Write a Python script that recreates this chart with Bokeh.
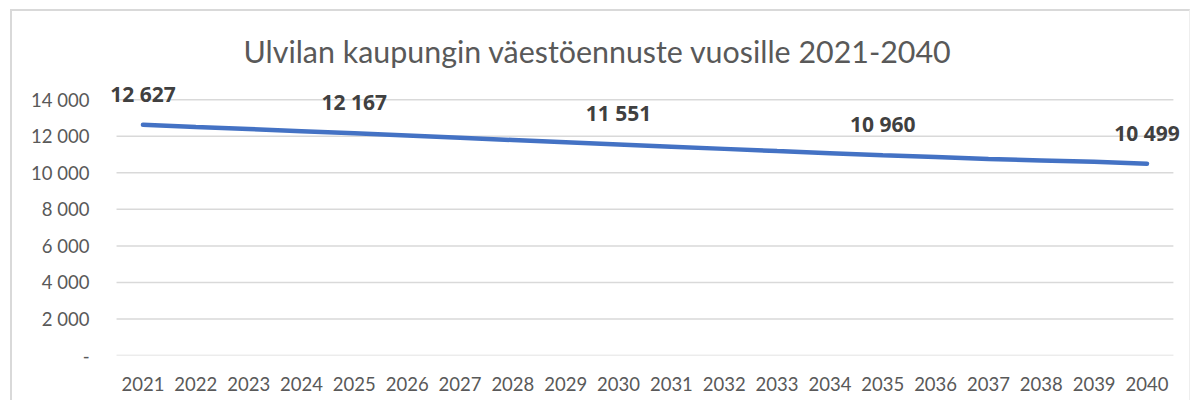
from bokeh.plotting import figure
from bokeh.models import ColumnDataSource, LabelSet, Title, FixedTicker, Range1d
from bokeh.core.properties import value
from bokeh.embed import file_html
from bokeh.resources import INLINE

title_text = "Ulvilan kaupungin väestöennuste vuosille 2021-2040"
years = list(range(2021, 2041))
population = [12627, 12510, 12395, 12280, 12167, 12045, 11920, 11795, 11672, 11551,
              11430, 11310, 11190, 11075, 10960, 10860, 10760, 10680, 10600, 10499]
label_years = [2021, 2025, 2030, 2035, 2040]
y_ticks = [0, 2000, 4000, 6000, 8000, 10000, 12000, 14000]
y_tick_labels = ["-", "2 000", "4 000", "6 000", "8 000", "10 000", "12 000", "14 000"]

FONT = "Lato"
LABEL_FONT = "Open Sans"

def fmt(v):
    return f"{v:,}".replace(",", " ")

src = ColumnDataSource(dict(x=years, y=population))
lab_vals = [population[years.index(y)] for y in label_years]
lab_src = ColumnDataSource(dict(x=label_years, y=lab_vals, t=[fmt(v) for v in lab_vals]))

x_start = years[0] - 0.5
x_end = years[-1] + 0.5
p = figure(x_range=Range1d(x_start - 0.19, x_end + 0.21), y_range=Range1d(0, 15600),
           width=1180, height=391,
           output_backend="svg", toolbar_location=None,
           min_border_left=94, min_border_right=8, min_border_top=59, min_border_bottom=47)
p.styles = {"margin-left": "10px", "margin-top": "9px",
            "border-left": "2px solid #d9d9d9", "border-top": "2px solid #d9d9d9",
            "border-right": "1px solid #eeeeee"}

p.add_layout(Title(text=title_text, align="left", text_font=FONT, text_font_size="30.4px",
                   text_font_style="normal", text_color="#595959", standoff=3, offset=137), "above")

# horizontal gridlines spanning the category area only
p.segment(x0=[x_start] * len(y_ticks), x1=[x_end] * len(y_ticks), y0=y_ticks, y1=y_ticks,
          line_color="#d9d9d9", line_width=1.5)

p.line("x", "y", source=src, line_color="#4472c4", line_width=4.5, line_cap="round")
p.add_layout(LabelSet(x="x", y="y", text="t", source=lab_src, y_offset=31,
                      text_align="center", text_baseline="middle", text_font=value(LABEL_FONT),
                      text_font_size="21px", text_font_style="bold", text_color="#404040"))

p.outline_line_color = None
p.xgrid.grid_line_color = None
p.ygrid.grid_line_color = None
p.yaxis.ticker = FixedTicker(ticks=y_ticks)
p.yaxis.major_label_overrides = {t: l for t, l in zip(y_ticks, y_tick_labels)}
p.yaxis.axis_line_color = None
p.yaxis.major_tick_line_color = None
p.yaxis.minor_tick_line_color = None
p.yaxis.major_label_standoff = 11
p.yaxis.major_label_text_font = FONT
p.yaxis.major_label_text_font_size = "18.5px"
p.yaxis.major_label_text_color = "#595959"

p.xaxis.ticker = FixedTicker(ticks=years)
p.xaxis.axis_line_color = None
p.xaxis.major_tick_line_color = None
p.xaxis.minor_tick_line_color = None
p.xaxis.major_label_standoff = 15
p.xaxis.major_label_text_font = FONT
p.xaxis.major_label_text_font_size = "18.5px"
p.xaxis.major_label_text_color = "#595959"

open("out.html", "w").write(file_html(p, INLINE))
